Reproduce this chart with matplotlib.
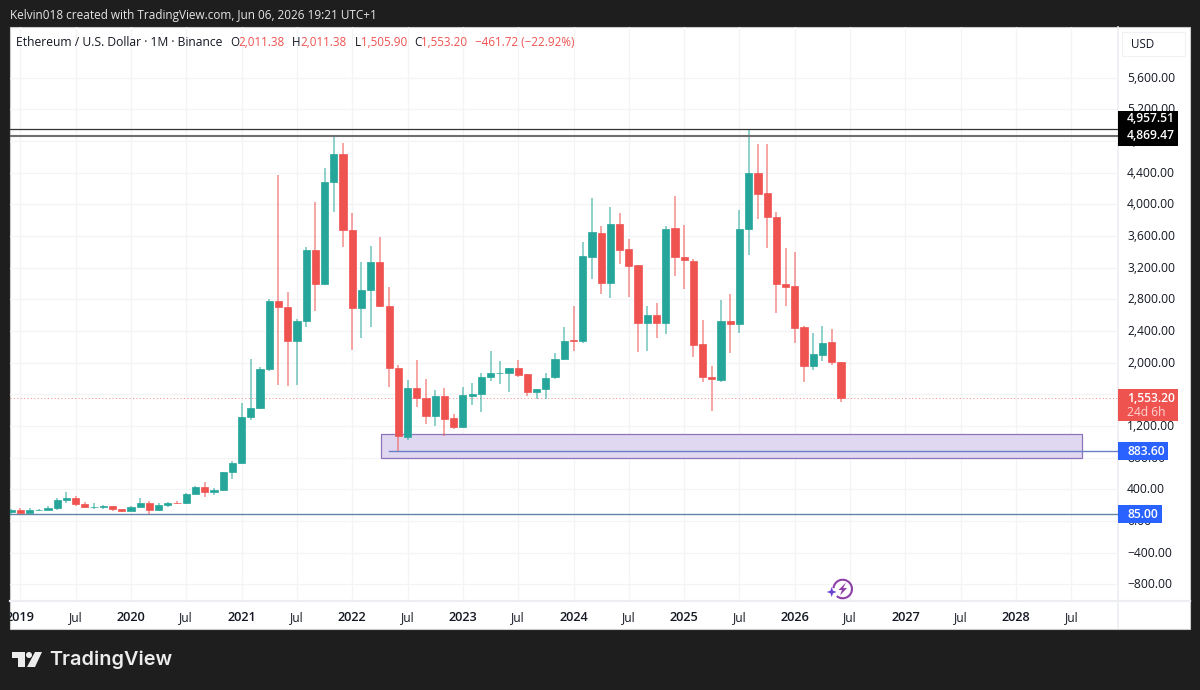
import numpy as np
import matplotlib
matplotlib.use('Agg')
import matplotlib.pyplot as plt
from matplotlib.patches import Rectangle, Polygon, Circle, Arc
from matplotlib.transforms import Bbox, ScaledTranslation

plt.rcParams['font.family'] = ['Open Sans', 'DejaVu Sans']

# monthly candles, first one is Dec 2018 (month index -1, Jan 2019 = 0)
opens = [113, 133, 107, 135, 141, 162, 268, 290, 218, 172, 180, 183, 152,
         129, 180, 223, 133, 206, 231, 225, 346, 434, 360, 386, 616,
         737, 1312, 1423, 1915, 2777, 2705, 2271, 2528, 3424, 2992, 4285, 4633,
         3674, 2688, 2916, 3273, 2717, 1933, 1061, 1677, 1554, 1323, 1575, 1297,
         1184, 1575, 1600, 1815, 1870, 1865, 1930, 1854, 1630, 1664, 1815, 2043,
         2283, 2275, 3337, 3636, 3008, 3754, 3434, 3232, 2507, 2604, 2507, 3703,
         3330, 3291, 2233, 1816, 1787, 2528, 2486, 3695, 4395, 4145, 3842, 2992,
         2966, 2448, 1959, 2094, 2258, 2011.38]
highs = [157, 160, 165, 149, 188, 289, 364, 316, 240, 223, 200, 190, 153,
         186, 288, 250, 227, 246, 254, 348, 446, 488, 420, 623, 760,
         1487, 2043, 1950, 2800, 4370, 2894, 2553, 3463, 4028, 4458, 4854, 4778,
         3890, 3273, 3472, 3590, 2958, 1970, 1778, 2031, 1790, 1655, 1677, 1348,
         1689, 1744, 1866, 2145, 2022, 1935, 2031, 1860, 1670, 1866, 2123, 2448,
         2714, 3523, 4083, 3725, 3965, 3890, 3560, 3240, 2717, 2760, 3733, 4104,
         3738, 3310, 2545, 1955, 2789, 2874, 3936, 4956, 4760, 4760, 3905, 3447,
         3396, 2465, 2376, 2460, 2423, 2011.38]
lows = [81, 100, 101, 125, 137, 143, 230, 190, 160, 151, 152, 130, 116,
        125, 180, 86, 128, 176, 216, 220, 335, 308, 331, 373, 530,
        714, 1272, 1410, 1895, 1715, 1706, 1715, 2446, 2654, 2985, 3905, 3463,
        2157, 2309, 2452, 2700, 1693, 880, 1019, 1436, 1221, 1196, 1074, 1158,
        1180, 1466, 1377, 1769, 1727, 1630, 1825, 1576, 1538, 1538, 1790, 2035,
        2145, 2250, 3059, 2865, 2818, 3245, 2831, 2136, 2148, 2313, 2368, 3096,
        2928, 2078, 1761, 1390, 1757, 2123, 2381, 3358, 3821, 3450, 2625, 2717,
        2250, 1756, 1904, 2022, 1967, 1505.90]
closes = [133, 107, 135, 141, 162, 268, 290, 218, 172, 180, 183, 152, 129,
          180, 223, 133, 206, 231, 225, 346, 434, 360, 386, 616, 737,
          1312, 1423, 1915, 2777, 2705, 2271, 2528, 3424, 2992, 4285, 4633, 3674,
          2688, 2916, 3273, 2717, 1933, 1074, 1677, 1554, 1323, 1575, 1285, 1184,
          1588, 1605, 1820, 1870, 1875, 1930, 1845, 1630, 1664, 1807, 2043, 2271,
          2275, 3345, 3650, 3008, 3754, 3430, 3228, 2507, 2600, 2507, 3695, 3330,
          3295, 2229, 1816, 1791, 2528, 2486, 3695, 4395, 4130, 3840, 2992, 2957,
          2440, 1959, 2107, 2250, 2008, 1553.20]

price_ticks = [-800, -400, 0, 400, 800, 1200, 1600, 2000, 2400, 2800, 3200,
               3600, 4000, 4400, 4800, 5200, 5600]
month_ticks = list(range(0, 115, 6))
month_labels = ['2019', 'Jul', '2020', 'Jul', '2021', 'Jul', '2022', 'Jul', '2023', 'Jul',
                '2024', 'Jul', '2025', 'Jul', '2026', 'Jul', '2027', 'Jul', '2028', 'Jul']

resistance_top = 4957.51
resistance_low = 4869.47
support_mid = 883.60
support_low = 85.00
last_price = 1553.20
zone_prices = (797, 1104)
zone_months = (39.1, 115.1)
support_mid_start = 40

UP = '#26a69a'
DOWN = '#ef5350'
DARK = '#1e1e1e'
TEXT = '#131722'

fig = plt.figure(figsize=(12, 6.9), dpi=100, facecolor=DARK)

# background in pixel coordinates
bg = fig.add_axes([0, 0, 1, 1], zorder=0)
bg.set_xlim(0, 1200)
bg.set_ylim(690, 0)
bg.axis('off')
bg.add_patch(Rectangle((10, 27), 1180, 602, fc='white', ec='#c9c9c9', lw=0.8))
bg.plot([1118, 1118], [27, 628], color='#eceef1', lw=1.2)
bg.plot([10, 1190], [601, 601], color='#eceef1', lw=1.6)
bg.text(10, 15, 'Kelvin018 created with TradingView.com, Jun 06, 2026 19:21 UTC+1',
        color='#e6e6e6', fontsize=8.46, va='center')

# main pane
ax = fig.add_axes([10 / 1200, 1 - 601 / 690, 1108 / 1200, 574 / 690], zorder=1)
ax.patch.set_alpha(0)
ax.set_xlim(-1.117, 119.05)
ax.set_ylim(-1011.4, 6242.6)
for s in ax.spines.values():
    s.set_visible(False)
ax.set_axisbelow(True)
ax.grid(True, color='#f3f4f6', lw=0.9)

ax.yaxis.tick_right()
ax.set_yticks(price_ticks)
ax.set_yticklabels([f'{v:,.2f}'.replace('-', '\u2212') for v in price_ticks],
                   fontsize=8.7, color=TEXT)
ax.tick_params(axis='y', length=0, pad=6.5)
ax.set_xticks(month_ticks)
ax.set_xticklabels(month_labels, fontsize=8.7, color=TEXT)
ax.tick_params(axis='x', length=0, pad=7.3)

# price labels sit 1px above their gridline
nudge = ScaledTranslation(0, 1 / 100, fig.dpi_scale_trans)
for lab in ax.get_yticklabels():
    lab.set_transform(lab.get_transform() + nudge)

panel_box = Bbox([[10, 690 - 629], [1190, 690 - 27]])
for lab in ax.get_xticklabels():
    lab.set_clip_on(True)
    lab.set_clip_box(panel_box)
    if lab.get_text() != 'Jul':
        lab.set_fontweight('semibold')
        lab.set_fontsize(9.2)

# purple zone
ax.add_patch(Rectangle((zone_months[0], zone_prices[0]),
                       zone_months[1] - zone_months[0], zone_prices[1] - zone_prices[0],
                       fc='#e0d7f1', ec='#8d74b8', lw=0.9, zorder=2))

# candles
month_idx = np.arange(len(opens)) - 1
opens_a = np.array(opens, dtype=float)
closes_a = np.array(closes, dtype=float)
colors = [UP if c >= o else DOWN for o, c in zip(opens_a, closes_a)]
ax.vlines(month_idx, lows, highs, colors=colors, lw=1.1, alpha=0.65, zorder=3)
ax.bar(month_idx, closes_a - opens_a, bottom=opens_a, width=0.78, color=colors,
       edgecolor=colors, lw=0.5, zorder=4)

# horizontal levels
ax.axhline(resistance_top, color='#333333', lw=0.9, zorder=5)
ax.axhline(resistance_low, color='#707070', lw=1.5, zorder=5)
ax.axhline(support_low, color='#6484a8', lw=1.0, zorder=2.5)
ax.plot([support_mid_start, ax.get_xlim()[1]], [support_mid, support_mid],
        color='#6a7fc4', lw=1.0, zorder=5)
ax.axhline(last_price, color=DOWN, lw=0.7, ls=(0, (1, 2.5)), alpha=0.7, zorder=2.5)


def py(v):
    # price -> pixel row, goes through the axis scale
    return 690 - ax.transData.transform((0, v))[1]


# overlay for legend text and price tags, above the axis labels
top = fig.add_axes([0, 0, 1, 1], zorder=3)
top.set_xlim(0, 1200)
top.set_ylim(690, 0)
top.axis('off')

# legend row
top.text(16, 42.5, 'Ethereum / U.S. Dollar \u00b7 1M \u00b7 Binance', color=TEXT,
         fontsize=8.7, va='center')
legend_bits = [(230, 'O', TEXT), (238, f'{opens[-1]:,.2f}', DOWN),
               (292, 'H', TEXT), (300, f'{highs[-1]:,.2f}', DOWN),
               (355, 'L', TEXT), (361, f'{lows[-1]:,.2f}', DOWN),
               (414, 'C', TEXT), (421, f'{closes[-1]:,.2f}', DOWN),
               (475, '\u2212461.72 (\u221222.92%)', DOWN)]
for x, s, c in legend_bits:
    top.text(x, 42.5, s, color=c, fontsize=8.4, va='center')

# USD button
top.add_patch(Rectangle((1122, 32), 63, 24, fc='white', ec='#f0f1f3', lw=0.8))
top.text(1131, 44, 'USD', color=TEXT, fontsize=8.4, va='center')

TAG_FS = 8.7
# black tag for the two resistance levels
top.add_patch(Rectangle((1118, 110.5), 60, 35, fc='black', ec='none'))
top.text(1127, py(resistance_top) - 10, f'{resistance_top:,.2f}', color='white',
         fontsize=TAG_FS, fontweight='semibold', va='center')
top.text(1127, py(resistance_low), f'{resistance_low:,.2f}', color='white',
         fontsize=TAG_FS, fontweight='semibold', va='center')

# last price tag
yp = py(last_price)
top.add_patch(Rectangle((1118, yp - 9), 60, 32, fc=DOWN, ec='none'))
top.text(1127, yp, f'{last_price:,.2f}', color='white', fontsize=TAG_FS,
         fontweight='semibold', va='center')
top.text(1127, yp + 14.5, '24d 6h', color='#fcd5d4', fontsize=TAG_FS, va='center')

# blue tags
for v, w in [(support_mid, 49.5), (support_low, 43.5)]:
    yp = py(v)
    top.add_patch(Rectangle((1118, yp - 9), w, 17.5, fc='#2962ff', ec='none'))
    top.text(1127, yp, f'{v:,.2f}', color='white', fontsize=TAG_FS,
             fontweight='semibold', va='center')

# small purple icon near the time axis
top.add_patch(Arc((842.7, 589), 18.5, 18.5, theta1=185, theta2=490, color='#8e3fa8', lw=1.5))
top.add_patch(Polygon([(846, 582.5), (838.5, 590), (842, 590), (840, 595.5), (847, 588), (843.2, 588)],
                      fc='#8e3fa8', ec='none'))
top.add_patch(Polygon([(831.7, 587), (833, 590.7), (836.7, 592), (833, 593.3), (831.7, 597),
                       (830.4, 593.3), (826.7, 592), (830.4, 590.7)], fc='#6a3fd8', ec='none'))

# logo in the footer
logo = '#ececec'
top.add_patch(Polygon([(12, 652), (24.7, 652), (24.7, 667), (18, 667), (18, 658), (12, 658)],
                      fc=logo, ec='none'))
top.add_patch(Circle((29, 655), 3, fc=logo, ec='none'))
top.add_patch(Polygon([(35, 652), (42, 652), (35, 667), (27, 667)], fc=logo, ec='none'))
top.text(49, 660, 'TradingView', color=logo, fontsize=14.3, fontweight='semibold',
         family=['Inter', 'DejaVu Sans'], va='center')

fig.savefig('out.png', dpi=100, facecolor=DARK)
